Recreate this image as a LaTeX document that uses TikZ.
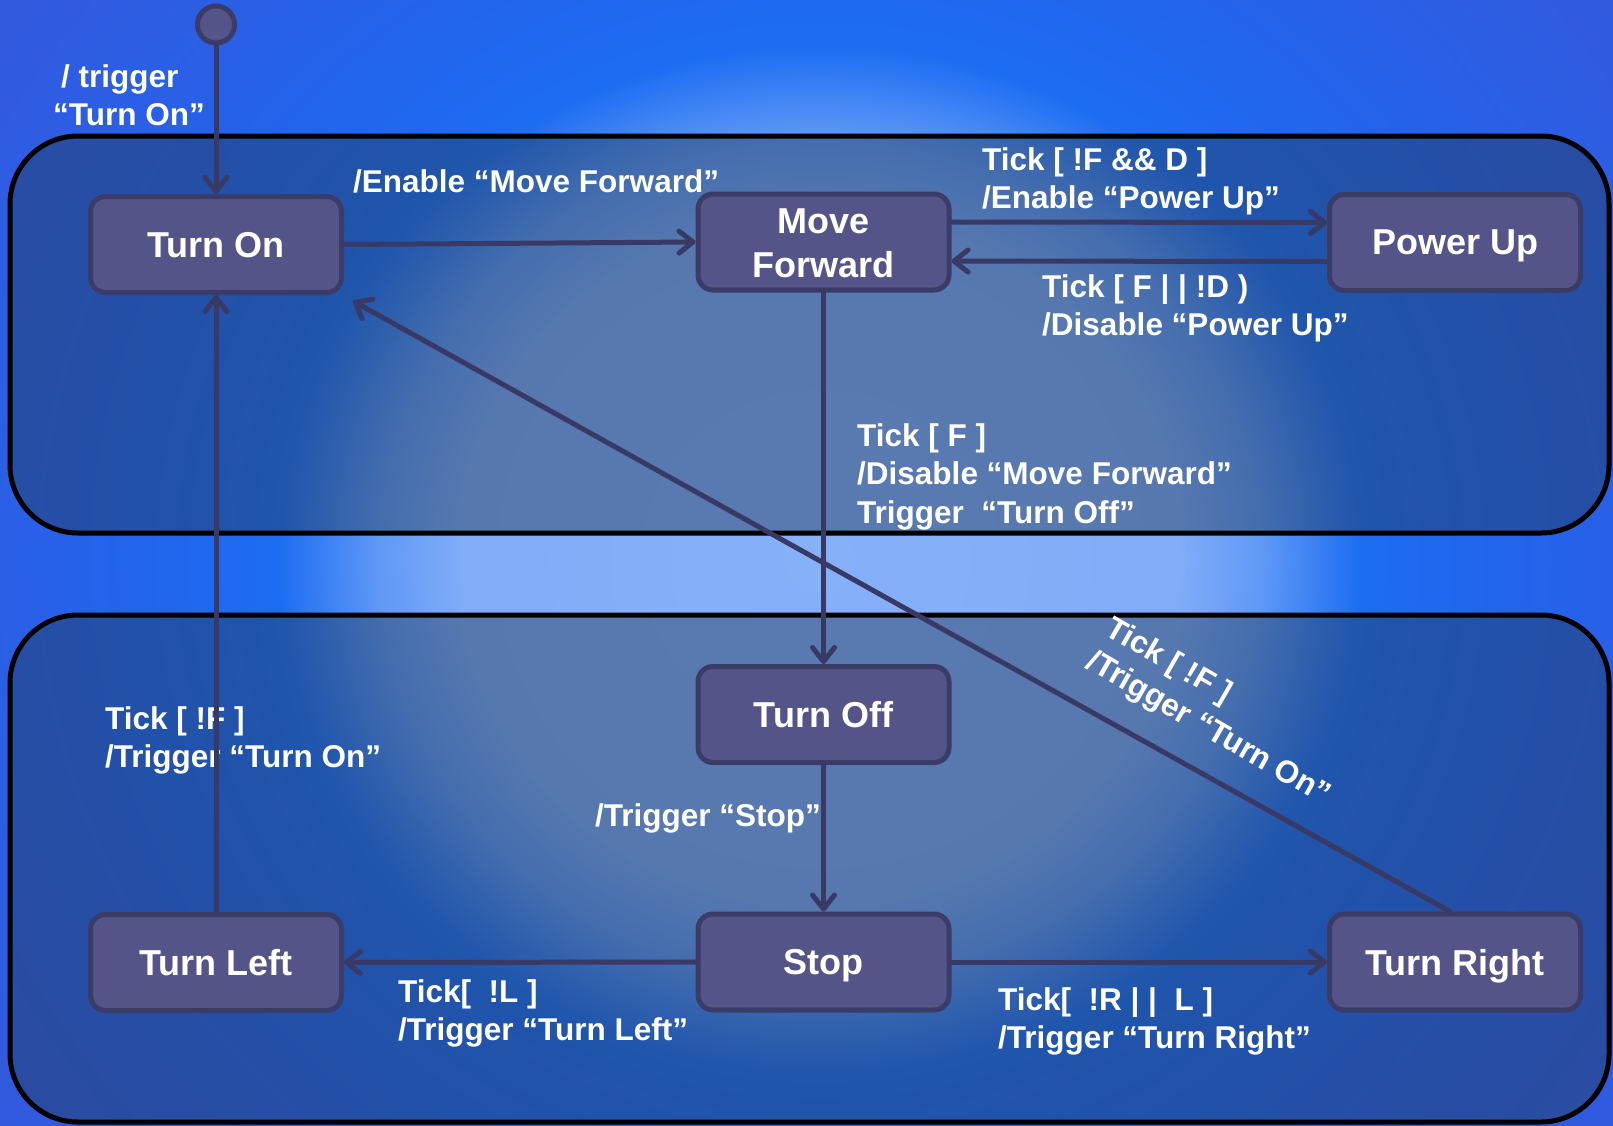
\documentclass[tikz,border=0pt]{standalone}
\usepackage{fontspec}
\setmainfont{Liberation Sans}
\usetikzlibrary{arrows.meta,calc}
\definecolor{nodefill}{HTML}{545488}
\definecolor{nodeline}{HTML}{3B3B68}
\definecolor{edgecol}{HTML}{393966}
\definecolor{boxfill}{HTML}{243A58}
\definecolor{gA}{HTML}{86B1F9}
\definecolor{gB}{HTML}{80ACF8}
\definecolor{gC}{HTML}{5F98F6}
\definecolor{gD}{HTML}{1D6DF2}
\definecolor{gE}{HTML}{2264EC}
\definecolor{gF}{HTML}{2C5EE4}
\definecolor{gG}{HTML}{3656DA}
\pgfdeclareradialshading{bgglow}{\pgfpoint{0bp}{0bp}}{color(0bp)=(gA); color(11bp)=(gB); color(13.5bp)=(gC); color(16.5bp)=(gD); color(21bp)=(gE); color(26bp)=(gF); color(34bp)=(gG); color(50bp)=(gG)}
\begin{document}
\begin{tikzpicture}[x=1pt,y=-1pt,
  state/.style={draw=nodeline, line width=5pt, fill=nodefill, rounded corners=15pt,
    minimum width=251pt, minimum height=96pt, text=white, text depth=0pt,
    font=\fontsize{36}{44}\selectfont\bfseries, align=center, inner sep=0pt},
  lbl/.style={text=white, font=\fontsize{31.5}{38.5}\selectfont\bfseries,
    align=left, inner sep=0pt, anchor=north west},
  arr/.style={draw=edgecol, line width=5pt, line cap=round,
    -{Straight Barb[length=14pt,width=22pt,round]}},
  container/.style={draw=black, line width=5pt, rounded corners=68pt,
    fill=boxfill, fill opacity=0.45}]
\useasboundingbox (0,0) rectangle (1613,1125);
\clip (0,0) rectangle (1613,1125);
\shade[shading=bgglow] (0,-220) rectangle (1640,1340);
% containers
\path[container] (10,136) rectangle (1609,533);
\path[container] (10,615) rectangle (1609,1122);
% labels
\node[lbl] (l0) at (53,64) {\hspace*{8pt}/ trigger\\“Turn On”};
\node[lbl] (l1) at (353,169) {/Enable “Move Forward”};
\node[lbl] (l2) at (982,147) {Tick [ !F \&\& D ]\\/Enable “Power Up”};
\node[lbl] (l3) at (1042,274) {Tick [ F | | !D )\\/Disable “Power Up”};
\node[lbl] (l4) at (857,423) {Tick [ F ]\\/Disable “Move Forward”\\Trigger\ \ “Turn Off”};
\node[lbl] (l5) at (105,706) {Tick [ !F ]\\/Trigger “Turn On”};
\node[lbl] (l6) at (595,803) {/Trigger “Stop”};
\node[lbl] (l7) at (398,979) {Tick[\ \ !L ]\\/Trigger “Turn Left”};
\node[lbl] (l8) at (998,987) {Tick[\ \ !R | |\ \ L ]\\/Trigger “Turn Right”};
\node[lbl, rotate=-30] (l9) at (1115,614) {Tick [ !F ]\\/Trigger “Turn On”};
% states
\node[circle, draw=nodeline, fill=nodefill, line width=5pt, minimum size=37pt, inner sep=0pt] (init) at (216,24.5) {};
\node[state] (TO) at (216,244.5) {Turn On};
\node[state] (MF) at (823.5,242) {\raisebox{-1.5pt}{Move}\\\raisebox{-1.5pt}{Forward}};
\node[state] (PU) at (1455,242.5) {Power Up};
\node[state] (TF) at (823.5,714.5) {Turn Off};
\node[state] (ST) at (823.5,962) {Stop};
\node[state] (TL) at (216,962.5) {Turn Left};
\node[state] (TR) at (1455,962) {Turn Right};
\coordinate (dtip) at (353,301);
% edges
\draw[arr] (init) -- (TO);
\draw[arr] (TO.east) -- (MF.west);
\draw[arr] ([yshift=20pt]MF.east) -- ([yshift=20pt]PU.west);
\draw[arr] ([yshift=-19pt]PU.west) -- ([yshift=-19pt]MF.east);
\draw[arr] (MF) -- (TF);
\draw[arr] (TF) -- (ST);
\draw[arr] (ST) -- (TL);
\draw[arr] (ST) -- (TR);
\draw[arr] (TL) -- (TO);
\draw[arr] ([xshift=-5pt]TR.north) -- (dtip);
\end{tikzpicture}
\end{document}
